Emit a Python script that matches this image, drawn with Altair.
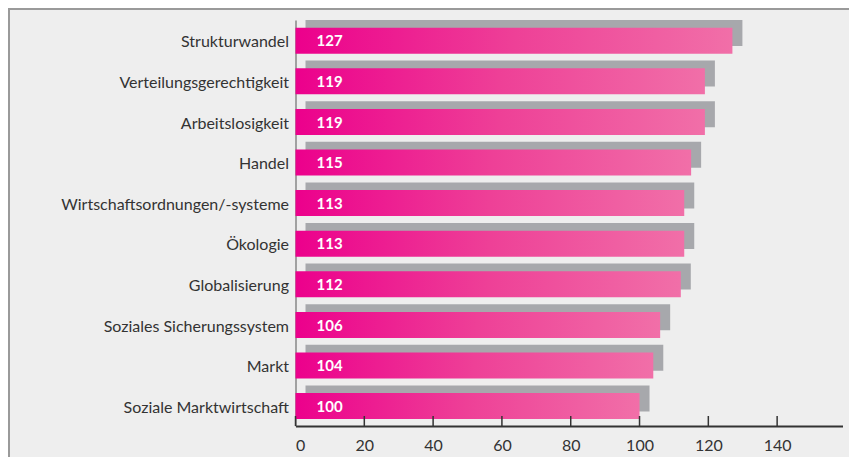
import altair as alt
import pandas as pd

categories = ["Strukturwandel", "Verteilungsgerechtigkeit", "Arbeitslosigkeit", "Handel",
              "Wirtschaftsordnungen/-systeme", "Ökologie", "Globalisierung",
              "Soziales Sicherungssystem", "Markt", "Soziale Marktwirtschaft"]
values = [127, 119, 119, 115, 113, 113, 112, 106, 104, 100]
tick_values = [0, 20, 40, 60, 80, 100, 120, 140]

df = pd.DataFrame({"cat": categories, "val": values})
ticks_df = pd.DataFrame({"t": tick_values})

W, H = 547, 406
FONT = "Lato"

y_enc = alt.Y("cat:N", sort=None,
              scale=alt.Scale(paddingInner=0, paddingOuter=0),
              axis=alt.Axis(title=None, ticks=False, domainColor="#555555", domainWidth=1,
                            labelPadding=7, labelFontSize=16, labelColor="#333333",
                            labelOffset=2, labelFont=FONT, labelLimit=300))
x_scale = alt.Scale(domain=[0, 159], nice=False)

shadow = alt.Chart(df).mark_bar(size=26, color="#a7a8ac", yOffset=-7.3, xOffset=10, x2Offset=10).encode(
    x=alt.X("val:Q", scale=x_scale,
            axis=alt.Axis(title=None, values=tick_values, ticks=False, grid=False,
                          domainColor="#333333", domainWidth=2, labelPadding=11,
                          labelFontSize=16, labelColor="#333333", labelFont=FONT)),
    y=y_enc,
)

grad = alt.Gradient(gradient="linear", x1=0, x2=1, y1=0, y2=0,
                    stops=[alt.GradientStop(color="#ec008c", offset=0),
                           alt.GradientStop(color="#ee4097", offset=0.5),
                           alt.GradientStop(color="#f16fa8", offset=1)])
bars = alt.Chart(df).mark_bar(size=26, color=grad, yOffset=0.4).encode(
    x=alt.X("val:Q", scale=x_scale),
    y=alt.Y("cat:N", sort=None),
)

labels = alt.Chart(df).mark_text(align="left", baseline="middle", color="white",
                                 fontWeight="bold", fontSize=15, font=FONT, dy=1).encode(
    x=alt.value(21),
    y=alt.Y("cat:N", sort=None),
    text=alt.Text("val:Q"),
)

tick_rules = alt.Chart(ticks_df).mark_rule(color="#333333", strokeWidth=1.5).encode(
    x=alt.X("t:Q", scale=x_scale),
    y=alt.value(H - 10),
    y2=alt.value(H),
)

frame_left = alt.Chart(ticks_df.head(1)).mark_rule(color="#9a9a9a", strokeWidth=2).encode(
    x=alt.value(-286.5), y=alt.value(-12), y2=alt.value(H + 40))
frame_top = alt.Chart(ticks_df.head(1)).mark_rule(color="#9a9a9a", strokeWidth=2).encode(
    x=alt.value(-287.5), x2=alt.value(W + 20), y=alt.value(-11))

chart = alt.layer(shadow, bars, labels, tick_rules, frame_left, frame_top).properties(
    width=W, height=H,
    autosize=alt.AutoSizeParams(type="none"),
    padding={"left": 287.5, "top": 12, "right": 6, "bottom": 31},
    background="#eeeeee",
).configure_view(stroke=None)

chart.save("out.html", embed_options={"renderer": "svg", "actions": False})
